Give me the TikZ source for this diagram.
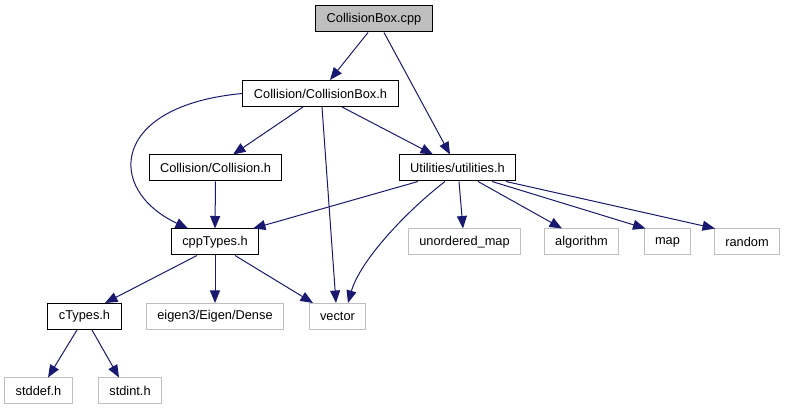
\documentclass[tikz,border=0pt]{standalone}
\usepackage{fontspec}
\setmainfont{Liberation Sans}
\usetikzlibrary{arrows.meta}
\definecolor{EdgeBlue}{RGB}{25,25,112}
\definecolor{SysGray}{RGB}{191,191,191}

\begin{document}
\begin{tikzpicture}[x=1pt, y=-1pt, font=\fontsize{12.8}{15}\selectfont]
\tikzset{
  file/.style={draw, line width=1pt, inner xsep=11pt, inner ysep=0pt, minimum height=26pt},
  srcfile/.style={file, fill=SysGray},
  incfile/.style={file, fill=white},
  sysfile/.style={file, draw=SysGray, fill=white},
  dep/.style={-{Triangle[length=12.5pt,width=10pt]}, line width=1pt, EdgeBlue}
}
  \useasboundingbox (0,0) rectangle (785,411);

  \node[srcfile] (cpp) at (374,19) {CollisionBox.cpp};
  \node[incfile] (cbh) at (320.5,93.5) {Collision/CollisionBox.h};
  \node[incfile] (coll) at (215.5,168) {Collision/Collision.h};
  \node[incfile] (util) at (457.5,168) {Utilities/utilities.h};

  \node[incfile] (cppt) at (215,242) {cppTypes.h};
  \node[sysfile] (umap) at (464.5,242) {unordered\_map};
  \node[sysfile] (algo) at (581.5,242) {algorithm};
  \node[sysfile] (map) at (667.5,242) {map};
  \node[sysfile] (rand) at (747,242) {random};

  \node[incfile] (ctypes) at (84.5,316.5) {cTypes.h};
  \node[sysfile] (eigen) at (215,316.5) {eigen3/Eigen/Dense};
  \node[sysfile] (vector) at (337.5,316.5) {vector};
  \node[sysfile] (stddef) at (38.5,391) {stddef.h};
  \node[sysfile] (stdint) at (130,391) {stdint.h};

  % from the source file
  \draw[dep] ([xshift=-6pt]cpp.south) -- ([xshift=9.5pt]cbh.north);
  \draw[dep] ([xshift=10pt]cpp.south) -- ([xshift=-7.5pt]util.north);

  % CollisionBox.h
  \draw[dep] (cbh.west) .. controls +(-132,12) and +(-83,-39) .. ([xshift=-27pt]cppt.north);
  \draw[dep] ([xshift=-17.5pt]cbh.south) -- ([xshift=17.5pt]coll.north);
  \draw[dep] ([xshift=1.5pt]cbh.south) -- ([xshift=-1.5pt]vector.north);
  \draw[dep] ([xshift=21.5pt]cbh.south) -- ([xshift=-24.5pt]util.north);

  \draw[dep] (coll.south) -- (cppt.north);

  % utilities.h
  \draw[dep] ([xshift=-39.5pt]util.south) -- ([xshift=38pt]cppt.north);
  \draw[dep] ([xshift=-12.5pt]util.south) .. controls +(-40,31) and +(12,-42) .. ([xshift=10.5pt]vector.north);
  \draw[dep] ([xshift=1.5pt]util.south) -- ([xshift=-1.5pt]umap.north);
  \draw[dep] ([xshift=20.5pt]util.south) -- ([xshift=-19.5pt]algo.north);
  \draw[dep] ([xshift=34.5pt]util.south) -- ([xshift=-22pt]map.north);
  \draw[dep] ([xshift=48.5pt]util.south) -- ([xshift=-32pt]rand.north);

  % cppTypes.h
  \draw[dep] ([xshift=-18pt]cppt.south) -- ([xshift=20.5pt]ctypes.north);
  \draw[dep] (cppt.south) -- (eigen.north);
  \draw[dep] ([xshift=20pt]cppt.south) -- ([xshift=-24.5pt]vector.north);

  % cTypes.h
  \draw[dep] ([xshift=-7.5pt]ctypes.south) -- ([xshift=9.5pt]stddef.north);
  \draw[dep] ([xshift=7.5pt]ctypes.south) -- ([xshift=-11pt]stdint.north);
\end{tikzpicture}
\end{document}
